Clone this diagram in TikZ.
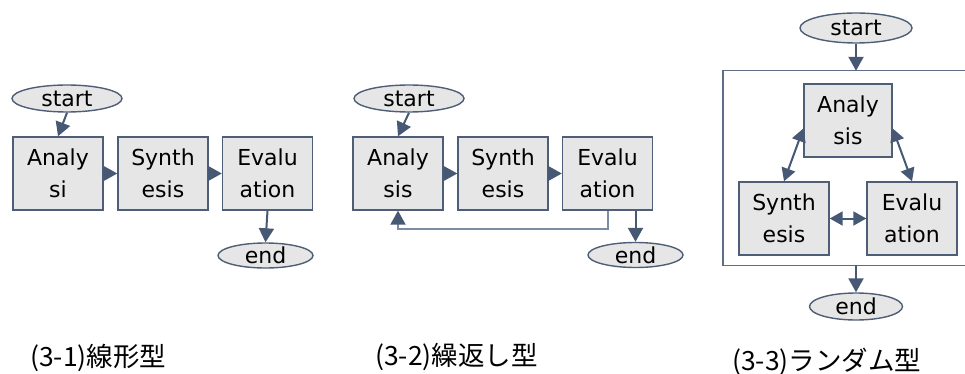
\documentclass[tikz,border=0pt]{standalone}
\usepackage{fontspec}
\newfontfamily\boxfont{DejaVu Sans}
\newfontfamily\cjk{Noto Sans CJK JP}
\usetikzlibrary{arrows.meta,calc,shapes.geometric}

\definecolor{edgeblue}{RGB}{78,94,118}
\definecolor{arrowblue}{RGB}{70,88,115}
\definecolor{boxgray}{RGB}{230,230,230}
\definecolor{loopblue}{RGB}{125,140,162}
\definecolor{framegray}{RGB}{95,110,132}

\tikzset{
  x=1pt, y=-1pt,
  stepbox/.style={draw=edgeblue, line width=1.4pt, fill=boxgray, rectangle,
    minimum width=90pt, minimum height=73pt, inner sep=0pt, align=center,
    font=\boxfont\fontsize{22}{32}\selectfont, text=black},
  terminal/.style={draw=edgeblue, line width=1.4pt, fill=boxgray, ellipse,
    minimum width=#1, minimum height=27pt, inner sep=0pt,
    font=\boxfont\fontsize{22}{26}\selectfont, text=black},
  terminal/.default=110pt,
  flow/.style={draw=arrowblue, line width=2pt,
    -{Triangle[length=14pt,width=15pt,color=arrowblue]}},
  twoway/.style={draw=arrowblue, line width=2pt,
    {Triangle[length=13pt,width=14pt]}-{Triangle[length=13pt,width=14pt]}},
  caption/.style={anchor=west, inner sep=0pt,
    font=\cjk\fontsize{26.5}{30}\selectfont, text=black},
}

\begin{document}
\begin{tikzpicture}
\useasboundingbox (0,0) rectangle (965,374);

% ---- (3-1) linear model ----
\node[terminal] (start1) at (67,98.5) {start};
\node[stepbox] (A1) at (58,173.5) {Analy\\si};
\node[stepbox] (S1) at (163,173.5) {Synth\\esis};
\node[stepbox] (E1) at (267.5,173.5) {Evalu\\ation};
\node[terminal=95pt, minimum height=25pt] (end1) at (265.5,255.5) {end};
\draw[flow] (start1.south) -- (A1.north);
\draw[flow] (A1.east) -- (S1.west);
\draw[flow] (S1.east) -- (E1.west);
\draw[flow] (E1.south) -- (end1.north);
\node[caption] (cap1) at (30,358) {(3-1)線形型};

% ---- (3-2) iterative model ----
\node[terminal] (start2) at (409,98.5) {start};
\node[stepbox] (A2) at (398,173.5) {Analy\\sis};
\node[stepbox] (S2) at (503,173.5) {Synth\\esis};
\node[stepbox] (E2) at (607.5,173.5) {Evalu\\ation};
\node[terminal=95pt, minimum height=25pt] (end2) at (635.5,255) {end};
\draw[flow] (start2.south) -- (A2.north);
\draw[flow] (A2.east) -- (S2.west);
\draw[flow] (S2.east) -- (E2.west);
\draw[flow] (end2.north |- E2.south) -- (end2.north);
\draw[flow, draw=loopblue] (E2.south) -- ++(0,18) -| (A2.south);
\node[caption] (cap2) at (375,357) {(3-2)繰返し型};

% ---- (3-3) random model ----
\node[terminal=112pt, minimum height=30pt] (start3) at (856,28) {start};
\node[rectangle, minimum width=247pt, minimum height=194pt, inner sep=0pt]
  (F) at (846.5,168) {};
\draw[framegray, line width=1.4pt]
  (F.north east) -- (F.north west) -- (F.south west) -- (F.south east);
\node[stepbox, minimum width=88pt] (A3) at (848,120.5) {Analy\\sis};
\node[stepbox] (S3) at (784,218.5) {Synth\\esis};
\node[stepbox] (E3) at (912,218.5) {Evalu\\ation};
\node[terminal=93pt] (end3) at (856,306.5) {end};
\draw[flow] (start3.south) -- (start3.south |- F.north);
\draw[twoway] ([yshift=-8pt]A3.west) -- (S3.north);
\draw[twoway] ([yshift=-8pt]A3.east) -- (E3.north);
\draw[twoway] (S3.east) -- (E3.west);
\draw[flow] (end3.north |- F.south) -- (end3.north);
\node[caption] (cap3) at (732,362) {(3-3)ランダム型};
\end{tikzpicture}
\end{document}
